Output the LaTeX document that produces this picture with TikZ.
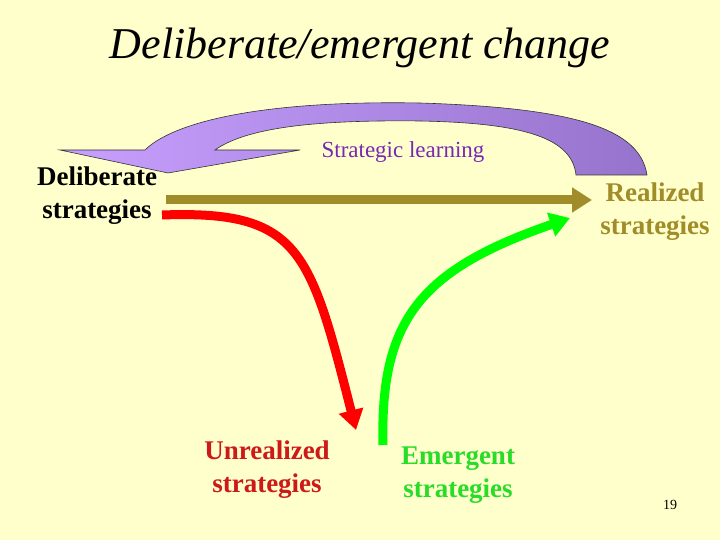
\documentclass[tikz,border=0pt]{standalone}
\usepackage{fontspec}
\setmainfont{Liberation Serif}
\usetikzlibrary{arrows.meta}
\definecolor{bg}{RGB}{255,255,204}
\definecolor{olivec}{RGB}{160,140,40}
\definecolor{redt}{RGB}{205,25,25}
\definecolor{greent}{RGB}{40,220,40}
\definecolor{purpt}{RGB}{120,40,180}
\definecolor{lpurp}{RGB}{200,160,255}
\definecolor{dpurp}{RGB}{150,115,205}
\tikzset{lbl/.style={font=\bfseries\fontsize{27}{33}\selectfont, align=center},
 thick arrow/.style={line width=9pt, -{Triangle[length=20pt,width=24pt]}}}
\begin{document}
\begin{tikzpicture}[x=1pt,y=-1pt]
\fill[bg] (0,0) rectangle (720,540);
\useasboundingbox (0,0) rectangle (720,540);
\node (title) at (360,48) {\itshape\fontsize{44}{50}\selectfont Deliberate/emergent change};
% purple curved arrow
\shade[left color=lpurp, right color=dpurp, draw=black!80, line width=0.6pt]
 (647,175) .. controls (640,130) and (580,108) .. (420,103)
 .. controls (250,100) and (170,125) .. (145,150)
 -- (60,150) -- (168,173) -- (300,150) -- (215,150)
 .. controls (250,125) and (330,120) .. (420,121)
 .. controls (530,123) and (572,140) .. (576,175) -- cycle;
\node[text=purpt, font=\fontsize{23}{26}\selectfont] (sl) at (403,152) {Strategic learning};
\node[lbl] (del) at (97,196) {Deliberate\\strategies};
\node[lbl, text=olivec] (real) at (655,212) {Realized\\strategies};
\node[lbl, text=redt] (unr) at (267,470) {Unrealized\\strategies};
\node[lbl, text=greent] (emg) at (458,475) {Emergent\\strategies};
\node[font=\fontsize{14}{16}\selectfont] (pg) at (670,505) {19};
\coordinate (s1) at (166,200);
\coordinate (e1) at (592,200);
\coordinate (s2) at (162,215);
\coordinate (e2) at (356,430);
\coordinate (s3) at (383,445);
\coordinate (e3) at (570,218);
\draw[thick arrow, olivec] (s1) -- (e1);
\draw[thick arrow, red] (s2) .. controls (300,210) and (310,250) .. (e2);
\draw[thick arrow, green] (s3) .. controls (380,320) and (420,270) .. (e3);
\end{tikzpicture}
\end{document}
